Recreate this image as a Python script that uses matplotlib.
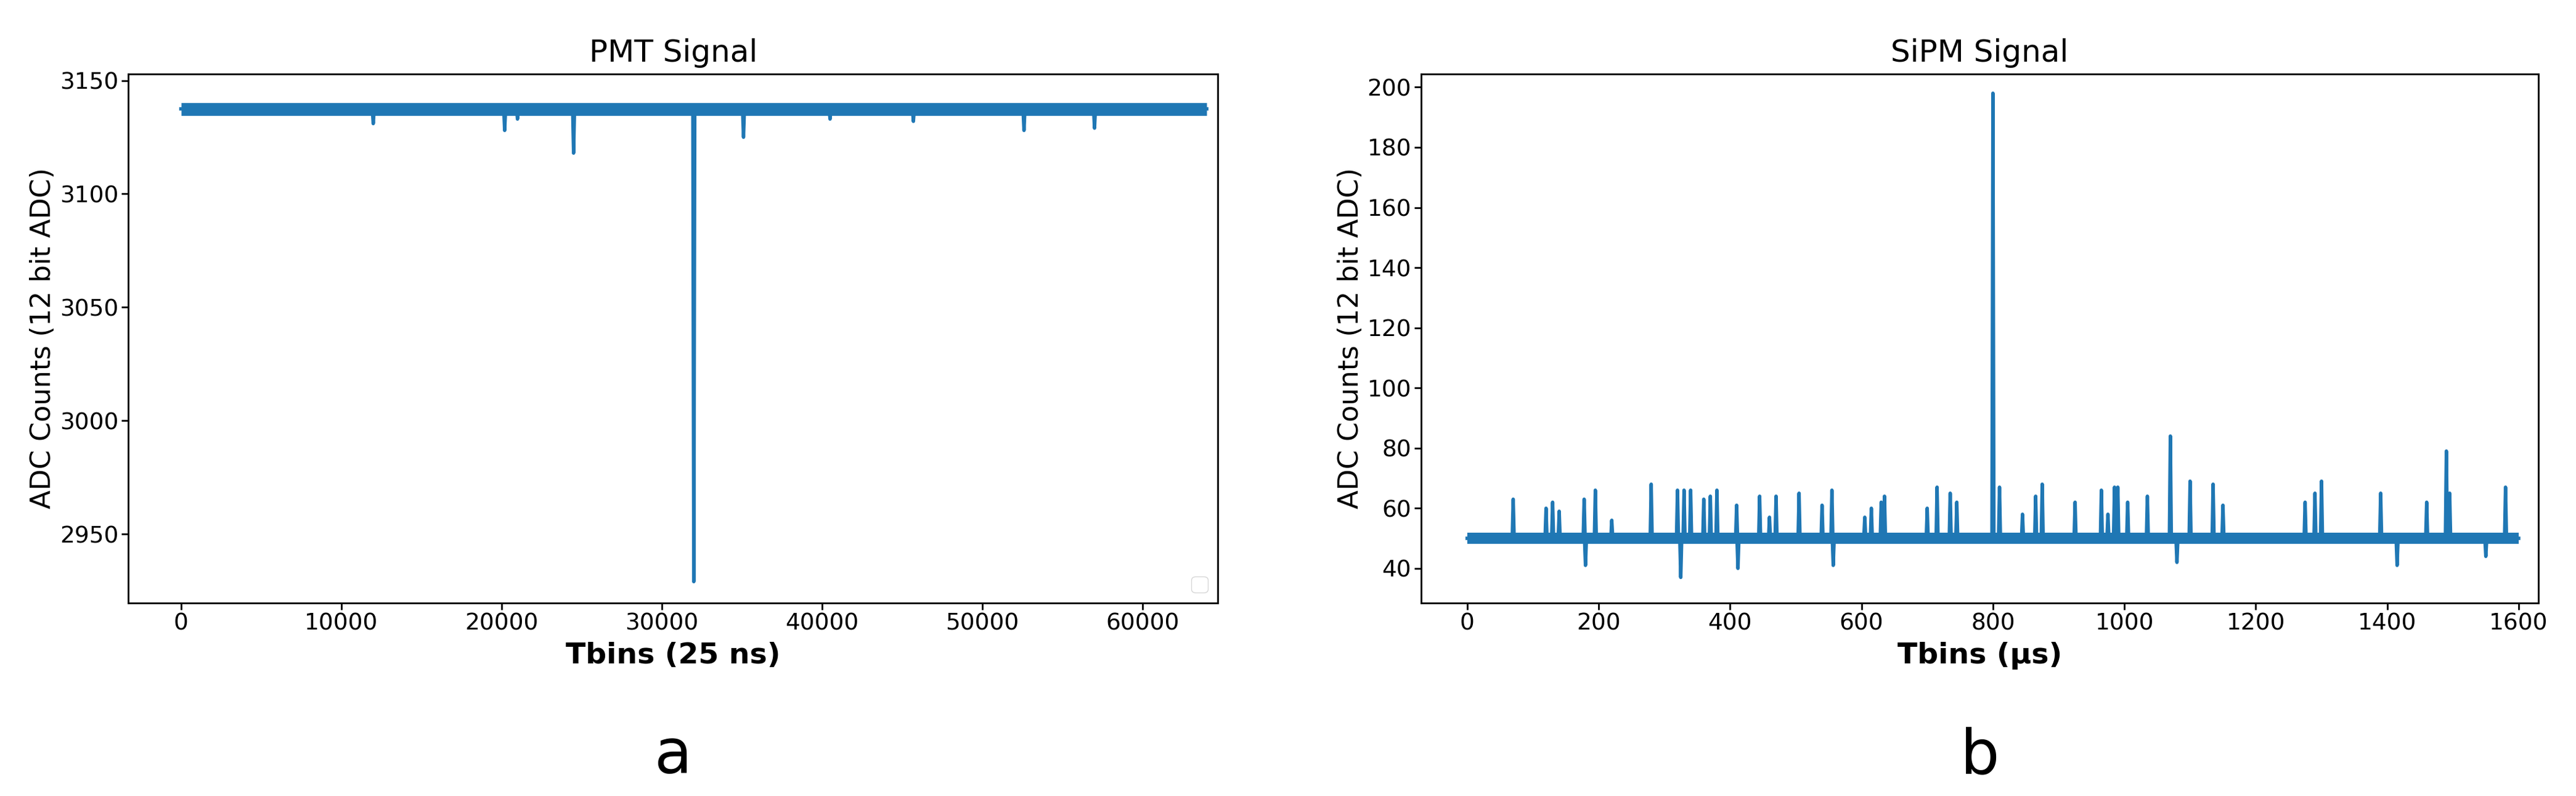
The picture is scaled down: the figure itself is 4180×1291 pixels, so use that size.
import numpy as np
import matplotlib.pyplot as plt

# PMT trace: baseline and spike (position, extreme value)
pmt_base = 3137.5
pmt_end = 64000
pmt_spikes_x = [12000, 20200, 21000, 24500, 32000, 35100, 40500, 45700, 52600, 57000]
pmt_spikes_y = [3131, 3128, 3133, 3118, 2929, 3125, 3133, 3132, 3128, 3129]

# SiPM trace
sipm_base = 50
sipm_end = 1600
sipm_spikes_x = [70, 120, 130, 140, 178, 180, 195, 220, 280, 320, 325, 330, 340, 360, 370, 380,
                 410, 412, 445, 460, 470, 505, 540, 555, 557, 605, 615, 630, 635, 700, 715, 735,
                 745, 800, 810, 845, 865, 875, 925, 965, 975, 985, 990, 1005, 1035, 1070, 1080,
                 1100, 1135, 1150, 1275, 1290, 1300, 1390, 1415, 1460, 1490, 1495, 1550, 1580]
sipm_spikes_y = [63, 60, 62, 59, 63, 41, 66, 56, 68, 66, 37, 66, 66, 63, 64, 66,
                 61, 40, 64, 57, 64, 65, 61, 66, 41, 57, 60, 62, 64, 60, 67, 65,
                 62, 198, 67, 58, 64, 68, 62, 66, 58, 67, 67, 62, 64, 84, 42,
                 69, 68, 61, 62, 65, 69, 65, 41, 62, 79, 65, 44, 67]


def trace(base, end, sx, sy, d):
    xs, ys = [0], [base]
    for x, y in sorted(zip(sx, sy)):
        xs += [x - d, x, x + d]
        ys += [base, y, base]
    xs.append(end)
    ys.append(base)
    return np.array(xs), np.array(ys)


c = '#1f77b4'
fig = plt.figure(figsize=(41.8, 12.91), dpi=100)
ax1 = fig.add_axes([0.0498, 0.2425, 0.423, 0.6646])
ax2 = fig.add_axes([0.5517, 0.2425, 0.4337, 0.6646])

x, y = trace(pmt_base, pmt_end, pmt_spikes_x, pmt_spikes_y, 60)
ax1.plot([0, pmt_end], [pmt_base, pmt_base], color=c, lw=15, solid_capstyle='butt')
ax1.plot(x, y, color=c, lw=4)
ax1.set_xlim(-3282, 64700)
ax1.set_ylim(2919.6, 3152.9)
ax1.set_yticks([2950, 3000, 3050, 3100, 3150])
ax1.legend(handles=[], loc='lower right', fontsize=24)

x, y = trace(sipm_base, sipm_end, sipm_spikes_x, sipm_spikes_y, 1.5)
ax2.plot([0, sipm_end], [sipm_base, sipm_base], color=c, lw=13, solid_capstyle='butt')
ax2.plot(x, y, color=c, lw=4)
ax2.set_xlim(-70, 1630)
ax2.set_ylim(28.5, 204.4)
ax2.set_yticks(range(40, 201, 20))

for ax, title, xl, tag in [(ax1, 'PMT Signal', 'Tbins (25 ns)', 'a'),
                           (ax2, 'SiPM Signal', 'Tbins (\u03bcs)', 'b')]:
    ax.set_title(title, fontsize=36, pad=14)
    ax.set_xlabel(xl, fontsize=34, fontweight='bold', labelpad=8)
    ax.set_ylabel('ADC Counts (12 bit ADC)', fontsize=32)
    ax.tick_params(labelsize=27, length=8, width=2)
    for s in ax.spines.values():
        s.set_linewidth(2)
    ax.text(0.5, -0.29, tag, transform=ax.transAxes, ha='center', va='center', fontsize=72)

fig.savefig('out.png', dpi=100)
